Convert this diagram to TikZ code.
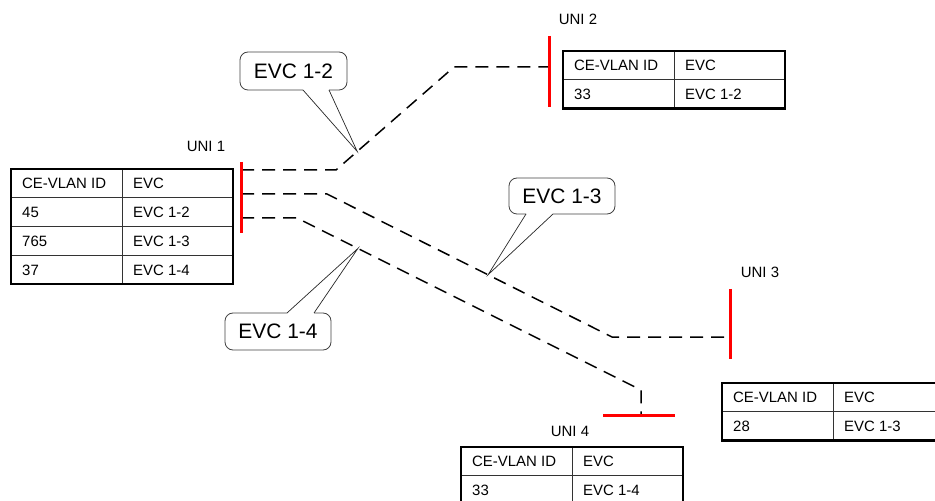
\documentclass[tikz,border=0pt]{standalone}
\usepackage{fontspec}
\setmainfont{Liberation Sans}
\usetikzlibrary{calc}
\newcommand\tabfont{\fontsize{15}{18}\selectfont}
\newcommand\calfont{\fontsize{21}{25}\selectfont}
\tikzset{
  cell/.style={anchor=base west, font=\tabfont, inner sep=0pt},
  tabframe/.style={line width=2.5bp, line join=miter},
  tabrule/.style={line width=0.9bp, draw=black!80},
  unibar/.style={draw=red, line width=3bp},
  evcline/.style={dash pattern=on 13bp off 8bp, line width=1.5bp},
  callbox/.style={draw=black!75, line width=0.8bp, rounded corners=8bp},
  callptr/.style={draw=black!85, line width=0.7bp},
  calltext/.style={font=\calfont, inner sep=0pt},
  unilabel/.style={font=\tabfont, inner sep=0pt}
}
\newcommand\evctable[3]{%
  \begin{scope}[shift={(#2)}]
    \foreach \a/\b [count=\n] in {#3} {
      \node[cell] (#1-\n-a) at (11,{(\n-0.5)*28.75+5.5}) {\a};
      \node[cell] (#1-\n-b) at (122,{(\n-0.5)*28.75+5.5}) {\b};
      \ifnum\n>1 \draw[tabrule] (0,{(\n-1)*28.75}) -- (222,{(\n-1)*28.75}); \fi
      \xdef\nrows{\n}
    }
    \draw[tabrule] (111,0) -- (111,{\nrows*28.75});
    \draw[tabframe] (0,0) rectangle (222,{\nrows*28.75});
  \end{scope}
}
\begin{document}
\begin{tikzpicture}[x=1bp,y=-1bp]
\useasboundingbox (0,0) rectangle (935,501);
\clip (0,0) rectangle (935,501);

% tables
\evctable{t1}{11,169}{CE-VLAN ID/EVC,45/EVC 1-2,765/EVC 1-3,37/EVC 1-4}
\evctable{t2}{563,51}{CE-VLAN ID/EVC,33/EVC 1-2}
\evctable{t3}{722,383}{CE-VLAN ID/EVC,28/EVC 1-3}
\evctable{t4}{461,447}{CE-VLAN ID/EVC,33/EVC 1-4}

% UNI labels
\node[unilabel] (u1) at (206,146) {UNI 1};
\node[unilabel] (u2) at (578,19) {UNI 2};
\node[unilabel] (u3) at (760,272) {UNI 3};
\node[unilabel] (u4) at (570,431) {UNI 4};

% UNI bars
\coordinate (b1t) at (241,162); \coordinate (b1b) at (241,233);
\coordinate (b2t) at (549,36);  \coordinate (b2b) at (549,107);
\coordinate (b3t) at (730,289); \coordinate (b3b) at (730,359);
\coordinate (b4l) at (603,415); \coordinate (b4r) at (675,415);

% EVC paths
\coordinate (p12a) at (241,170); \coordinate (p12b) at (336,170);
\coordinate (p12c) at (454,67);  \coordinate (p12d) at (549,67);
\coordinate (p13a) at (241,194); \coordinate (p13b) at (327,194);
\coordinate (p13c) at (612,337); \coordinate (p13d) at (730,337);
\coordinate (p14a) at (241,218); \coordinate (p14b) at (297,218);
\coordinate (p14c) at (641,390); \coordinate (p14d) at (641,415);

\draw[evcline] (p12a) -- (p12b) -- (p12c) -- (p12d);
\draw[evcline] (p13a) -- (p13b) -- (p13c) -- (p13d);
\draw[evcline] (p14a) -- (p14b) -- (p14c) -- (p14d);

\draw[unibar] (b1t) -- (b1b);
\draw[unibar] (b2t) -- (b2b);
\draw[unibar] (b3t) -- (b3b);
\draw[unibar] (b4l) -- (b4r);

% callouts
\coordinate (tip12) at ($(p12b)!0.18!(p12c)$);
\coordinate (tip13) at ($(p13b)!0.565!(p13c)$);
\coordinate (tip14) at ($(p14b)!0.177!(p14c)$);

\node[calltext] (c12) at (293.5,71) {EVC 1-2};
\draw[callbox] (303,90) -- (240,90) -- (240,52) -- (347,52) -- (347,90) -- (329,90);
\draw[callptr] (303,90) -- (tip12) -- (329,90);

\node[calltext] (c13) at (562,196) {EVC 1-3};
\draw[callbox] (526,214) -- (509,214) -- (509,178) -- (615,178) -- (615,214) -- (553,214);
\draw[callptr] (526,214) -- (tip13) -- (553,214);

\node[calltext] (c14) at (278,331.5) {EVC 1-4};
\draw[callbox] (287,313) -- (225,313) -- (225,350) -- (331,350) -- (331,313) -- (314,313);
\draw[callptr] (287,313) -- (tip14) -- (314,313);
\end{tikzpicture}
\end{document}
